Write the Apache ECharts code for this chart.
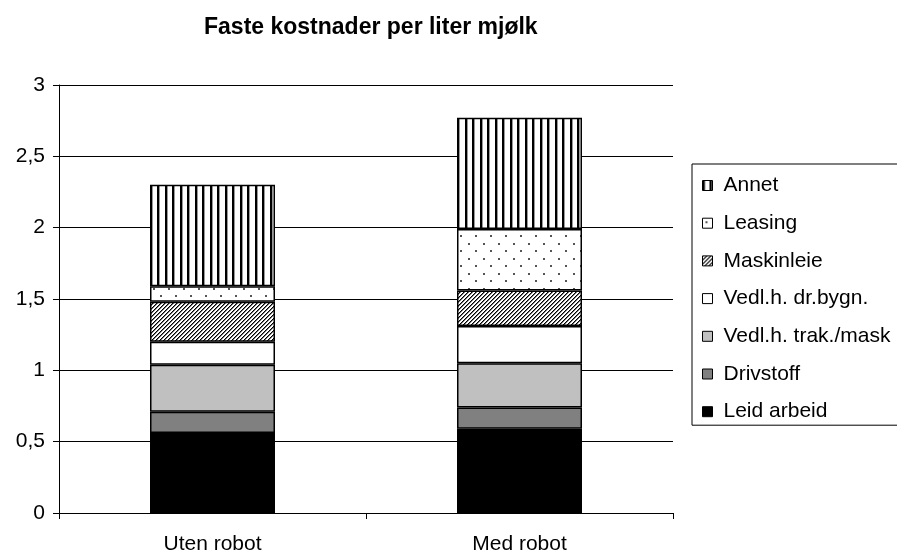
<!DOCTYPE html>
<html>
<head>
<meta charset="utf-8">
<script src="https://cdn.jsdelivr.net/npm/echarts@6/dist/echarts.min.js"></script>
<style>
  html, body { margin: 0; padding: 0; background: #fff; }
  #main { width: 897px; height: 553px; }
</style>
</head>
<body>
<div id="main"></div>
<script>
var categories = ['Uten robot', 'Med robot'];
var leidArbeid = [0.56, 0.59];
var drivstoff = [0.15, 0.15];
var vedlTrak = [0.33, 0.31];
var vedlDr = [0.16, 0.26];
var maskinleie = [0.28, 0.25];
var leasing = [0.11, 0.43];
var annet = [0.71, 0.78];
var yMin = 0, yMax = 3, yStep = 0.5;

var FONT = 'Liberation Sans, Arial, sans-serif';

function makePattern(w, h, draw) {
    var c = document.createElement('canvas');
    c.width = w;
    c.height = h;
    var ctx = c.getContext('2d');
    ctx.fillStyle = '#fff';
    ctx.fillRect(0, 0, w, h);
    draw(ctx);
    return { image: c, repeat: 'repeat' };
}

// vertical stripes
var stripes = makePattern(15, 15, function (ctx) {
    ctx.fillStyle = '#000';
    ctx.fillRect(0, 0, 2, 15);
    ctx.fillRect(7, 0, 2, 15);
    ctx.fillStyle = '#999';
    ctx.fillRect(2, 0, 1, 15);
    ctx.fillRect(9, 0, 1, 15);
});
// sparse dots
var dots = makePattern(15, 15, function (ctx) {
    ctx.fillStyle = '#555';
    ctx.fillRect(3, 3, 2, 2);
    ctx.fillRect(10, 10, 2, 2);
});
// diagonal hatch
var hatch = makePattern(4, 4, function (ctx) {
    for (var i = 0; i < 4; i++) {
        ctx.fillStyle = '#000';
        ctx.fillRect(i, 3 - i, 1, 1);
        ctx.fillStyle = '#777';
        ctx.fillRect(i, (4 - i) % 4, 1, 1);
    }
});

function bar(name, data, fill) {
    return {
        name: name,
        type: 'bar',
        stack: 'total',
        barWidth: 125,
        data: data,
        itemStyle: {
            color: fill,
            borderColor: '#000',
            borderWidth: 1.5
        },
        emphasis: { disabled: true }
    };
}

var series = [
    bar('Leid arbeid', leidArbeid, '#000'),
    bar('Drivstoff', drivstoff, '#808080'),
    bar('Vedl.h. trak./mask', vedlTrak, '#c0c0c0'),
    bar('Vedl.h. dr.bygn.', vedlDr, '#fff'),
    bar('Maskinleie', maskinleie, hatch),
    bar('Leasing', leasing, dots),
    bar('Annet', annet, stripes)
];

var legendNames = series.map(function (s) { return s.name; }).reverse();

var chart = echarts.init(document.getElementById('main'), null, { renderer: 'canvas' });
chart.setOption({
    backgroundColor: '#fff',
    animation: false,
    title: {
        text: 'Faste kostnader per liter mjølk',
        left: 199,
        top: 11,
        textStyle: { fontFamily: FONT, fontSize: 23, fontWeight: 'bold', color: '#000' }
    },
    legend: {
        orient: 'vertical',
        left: 692,
        top: 164,
        padding: [11, 300, 3, 10],
        itemGap: 16.7,
        itemWidth: 10,
        itemHeight: 10,
        icon: 'rect',
        borderColor: '#000',
        borderWidth: 1,
        selectedMode: false,
        data: legendNames,
        itemStyle: { borderColor: '#000', borderWidth: 1 },
        textStyle: { fontFamily: FONT, fontSize: 21, color: '#000', padding: [0, 0, 0, 6] }
    },
    grid: {
        left: 59,
        right: 224,
        top: 85,
        bottom: 40,
        containLabel: false,
        outerBoundsMode: 'none'
    },
    xAxis: {
        type: 'category',
        data: categories,
        axisLine: { lineStyle: { color: '#000', width: 1 } },
        axisTick: { show: true, alignWithLabel: false, length: 6, lineStyle: { color: '#000' } },
        axisLabel: { margin: 21, fontFamily: FONT, fontSize: 21, color: '#000' },
        splitLine: { show: false }
    },
    yAxis: {
        type: 'value',
        min: yMin,
        max: yMax,
        interval: yStep,
        axisLine: { show: true, lineStyle: { color: '#000', width: 1 } },
        axisTick: { show: true, length: 6, lineStyle: { color: '#000' } },
        axisLabel: {
            margin: 14,
            fontFamily: FONT,
            fontSize: 21,
            color: '#000',
            formatter: function (v) { return String(v).replace('.', ','); }
        },
        splitLine: { show: true, lineStyle: { color: '#000', width: 1 } }
    },
    series: series
});
</script>
</body>
</html>
